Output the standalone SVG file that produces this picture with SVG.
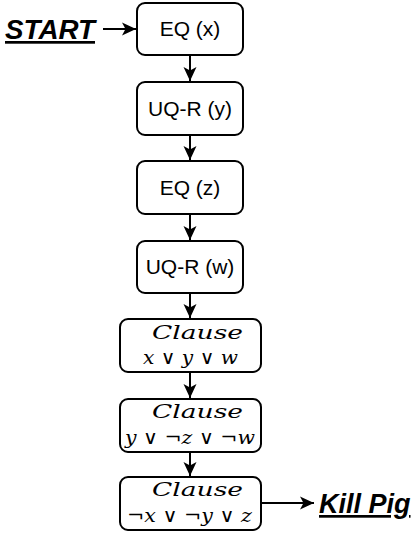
<svg xmlns="http://www.w3.org/2000/svg" width="419" height="535" viewBox="0 0 419 535">
<defs>
<style>
.box{fill:#fff;stroke:#000;stroke-width:2}
.lbl{font-family:"Liberation Sans",Arial,sans-serif;font-size:21px;fill:#000;text-anchor:middle}
.math{font-family:"DejaVu Serif","Liberation Serif",serif;font-size:19px;fill:#000;font-style:italic}
.op{font-style:normal}
.term{font-family:"Liberation Sans",Arial,sans-serif;font-size:27px;font-weight:bold;font-style:italic;text-decoration:underline;fill:#000}
.edge{stroke:#000;stroke-width:2;fill:none;marker-end:url(#ah)}
</style>
<marker id="ah" markerWidth="16" markerHeight="16" viewBox="0 0 16 16" refX="15" refY="8" orient="auto" markerUnits="userSpaceOnUse">
<path d="M1,1.5 L15,8 L1,14.5 L4.5,8 Z" fill="#000"/>
</marker>
</defs>
<g id="connectors">
<path class="edge" d="M103,29 L136,29"/>
<path class="edge" d="M190,55 L190,81"/>
<path class="edge" d="M190,135 L190,160"/>
<path class="edge" d="M190,214 L190,240"/>
<path class="edge" d="M190,293 L190,318"/>
<path class="edge" d="M190,372 L190,398"/>
<path class="edge" d="M190,452 L190,476"/>
<path class="edge" d="M261,503 L314,503"/>
</g>
<g id="start"><text class="term" x="5" y="39" textLength="90" lengthAdjust="spacingAndGlyphs">START</text></g>
<g id="n1"><rect class="box" x="137" y="3" width="106" height="52" rx="8"/><text class="lbl" x="190" y="36">EQ (x)</text></g>
<g id="n2"><rect class="box" x="137" y="82" width="106" height="53" rx="8"/><text class="lbl" x="190" y="116">UQ-R (y)</text></g>
<g id="n3"><rect class="box" x="137" y="161" width="106" height="53" rx="8"/><text class="lbl" x="190" y="195">EQ (z)</text></g>
<g id="n4"><rect class="box" x="137" y="241" width="106" height="52" rx="8"/><text class="lbl" x="190" y="274">UQ-R (w)</text></g>
<g id="n5"><rect class="box" x="120" y="319" width="141" height="53" rx="8"/>
<text class="math" x="152" y="339" textLength="91" lengthAdjust="spacingAndGlyphs">Clause</text>
<text class="math" x="143" y="364" textLength="95" lengthAdjust="spacingAndGlyphs">x <tspan class="op">∨</tspan> y <tspan class="op">∨</tspan> w</text></g>
<g id="n6"><rect class="box" x="120" y="399" width="141" height="53" rx="8"/>
<text class="math" x="152" y="418" textLength="91" lengthAdjust="spacingAndGlyphs">Clause</text>
<text class="math" x="125" y="444" textLength="130" lengthAdjust="spacingAndGlyphs">y <tspan class="op">∨ ¬</tspan>z <tspan class="op">∨ ¬</tspan>w</text></g>
<g id="n7"><rect class="box" x="120" y="477" width="141" height="53" rx="8"/>
<text class="math" x="152" y="496" textLength="91" lengthAdjust="spacingAndGlyphs">Clause</text>
<text class="math" x="127" y="522" textLength="125" lengthAdjust="spacingAndGlyphs"><tspan class="op">¬</tspan>x <tspan class="op">∨ ¬</tspan>y <tspan class="op">∨</tspan> z</text></g>
<g id="end"><text class="term" x="319" y="513">Kill Pig</text></g>
</svg>
